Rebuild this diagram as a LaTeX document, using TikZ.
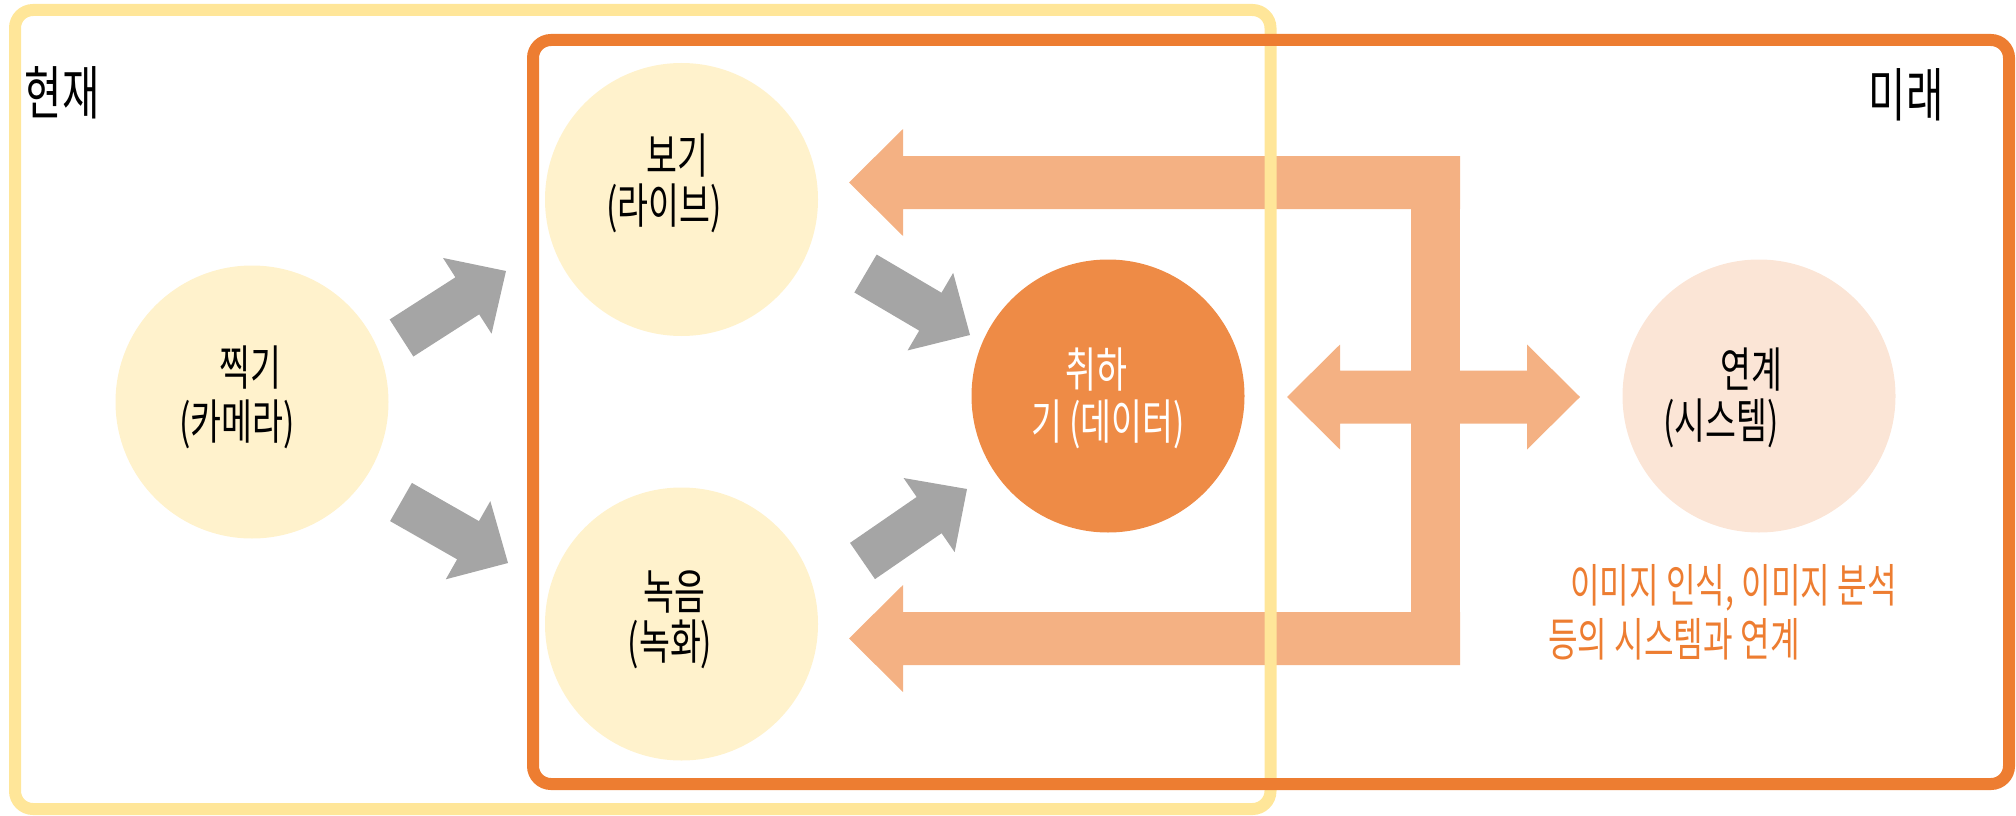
\documentclass[tikz,border=0pt]{standalone}
\usepackage{fontspec}
\setmainfont{Noto Sans CJK KR}[FakeStretch=0.7]
\usetikzlibrary{calc}
\definecolor{yel}{HTML}{FFE699}
\definecolor{org}{HTML}{ED7D31}
\definecolor{lyel}{HTML}{FFF2CC}
\definecolor{orgc}{HTML}{EE8B46}
\definecolor{lpeach}{HTML}{FBE5D6}
\definecolor{peach}{HTML}{F4B183}
\definecolor{gry}{HTML}{A5A5A5}
% block arrow: start, tip, half shaft, half head, head length, colour
\newcommand\myblockarrow[6]{%
  \path ($(#2)!#5!(#1)$) coordinate (bah);
  \fill[#6] ($(#1)!#3!90:(#2)$) -- ($(bah)!#3!90:(#2)$) -- ($(bah)!#4!90:(#2)$) -- (#2)
     -- ($(bah)!#4!-90:(#2)$) -- ($(bah)!#3!-90:(#2)$) -- ($(#1)!#3!-90:(#2)$) -- cycle;}
\begin{document}
\begin{tikzpicture}[x=1pt,y=-1pt,
  circ/.style={circle, minimum size=273pt, inner sep=0pt},
  lbl/.style={font=\fontsize{48}{56}\selectfont, inner sep=0pt, anchor=center},
  head/.style={font=\fontsize{58}{66}\selectfont, inner sep=0pt, anchor=center},
  note/.style={font=\fontsize{46}{54}\selectfont, inner sep=0pt, anchor=west, text=org},
  ybox/.style={draw=yel, line width=12pt, rounded corners=18pt},
  obox/.style={draw=org, line width=12pt, rounded corners=18pt}]
\useasboundingbox (0,0) rectangle (2016,816);

% circles
\node[circ, fill=lyel] (cam) at (252,402) {};
\node[circ, fill=lyel] (live) at (681.5,199.5) {};
\node[circ, fill=lyel] (rec) at (681.5,624) {};
\node[circ, fill=orgc] (data) at (1108,396) {};
\node[circ, fill=lpeach] (sys) at (1759,396) {};

% gray arrows
\coordinate (a1s) at (401.5,338); \coordinate (a1e) at (506,271);
\coordinate (a2s) at (401,502);   \coordinate (a2e) at (508,563);
\coordinate (a3s) at (865.5,273.5); \coordinate (a3e) at (970,335);
\coordinate (a4s) at (862.5,561); \coordinate (a4e) at (967,489);
\myblockarrow{a1s}{a1e}{22pt}{45pt}{46pt}{gry}
\myblockarrow{a2s}{a2e}{22pt}{45pt}{46pt}{gry}
\myblockarrow{a3s}{a3e}{22pt}{45pt}{46pt}{gry}
\myblockarrow{a4s}{a4e}{22pt}{45pt}{46pt}{gry}

% peach arrows
\coordinate (pbTop) at (1411,156);
\coordinate (pbBot) at (1460,665);
\fill[peach] (pbTop) rectangle (pbBot);
\coordinate (ptR) at (1460,182.5); \coordinate (ptL) at (849,182.5);
\coordinate (pbR) at (1460,638.5); \coordinate (pbL) at (849,638.5);
\coordinate (pmC) at (1435,397);
\coordinate (pmL) at (1287,397);   \coordinate (pmR) at (1580,397);
\myblockarrow{ptR}{ptL}{26.5pt}{53.5pt}{54pt}{peach}
\myblockarrow{pbR}{pbL}{26.5pt}{53.5pt}{54pt}{peach}
\myblockarrow{pmC}{pmL}{26.5pt}{52.5pt}{53pt}{peach}
\myblockarrow{pmC}{pmR}{26.5pt}{52.5pt}{53pt}{peach}

% frames
\draw[ybox] (15,10) rectangle (1270.5,809);
\draw[obox] (533,40) rectangle (2009,784);

% texts
\node[head] (tnow) at (62,93) {현재};
\node[head] (tfut) at (1906,95) {미래};
\node[lbl] (t1a) at (250,368) {찍기};
\node[lbl] (t1b) at (237,424) {(카메라)};
\node[lbl] (t2a) at (677,156) {보기};
\node[lbl] (t2b) at (664,208) {(라이브)};
\node[lbl] (t3a) at (674,592) {녹음};
\node[lbl] (t3b) at (670,644) {(녹화)};
\node[lbl, text=white] (t4a) at (1096,370) {취하};
\node[lbl, text=white] (t4b) at (1108,424) {기 (데이터)};
\node[lbl] (t5a) at (1751,370) {연계};
\node[lbl] (t5b) at (1721,423) {(시스템)};
\node[note] (n1) at (1570,588) {이미지 인식, 이미지 분석};
\node[note] (n2) at (1548,639) {등의 시스템과 연계};
\end{tikzpicture}
\end{document}
